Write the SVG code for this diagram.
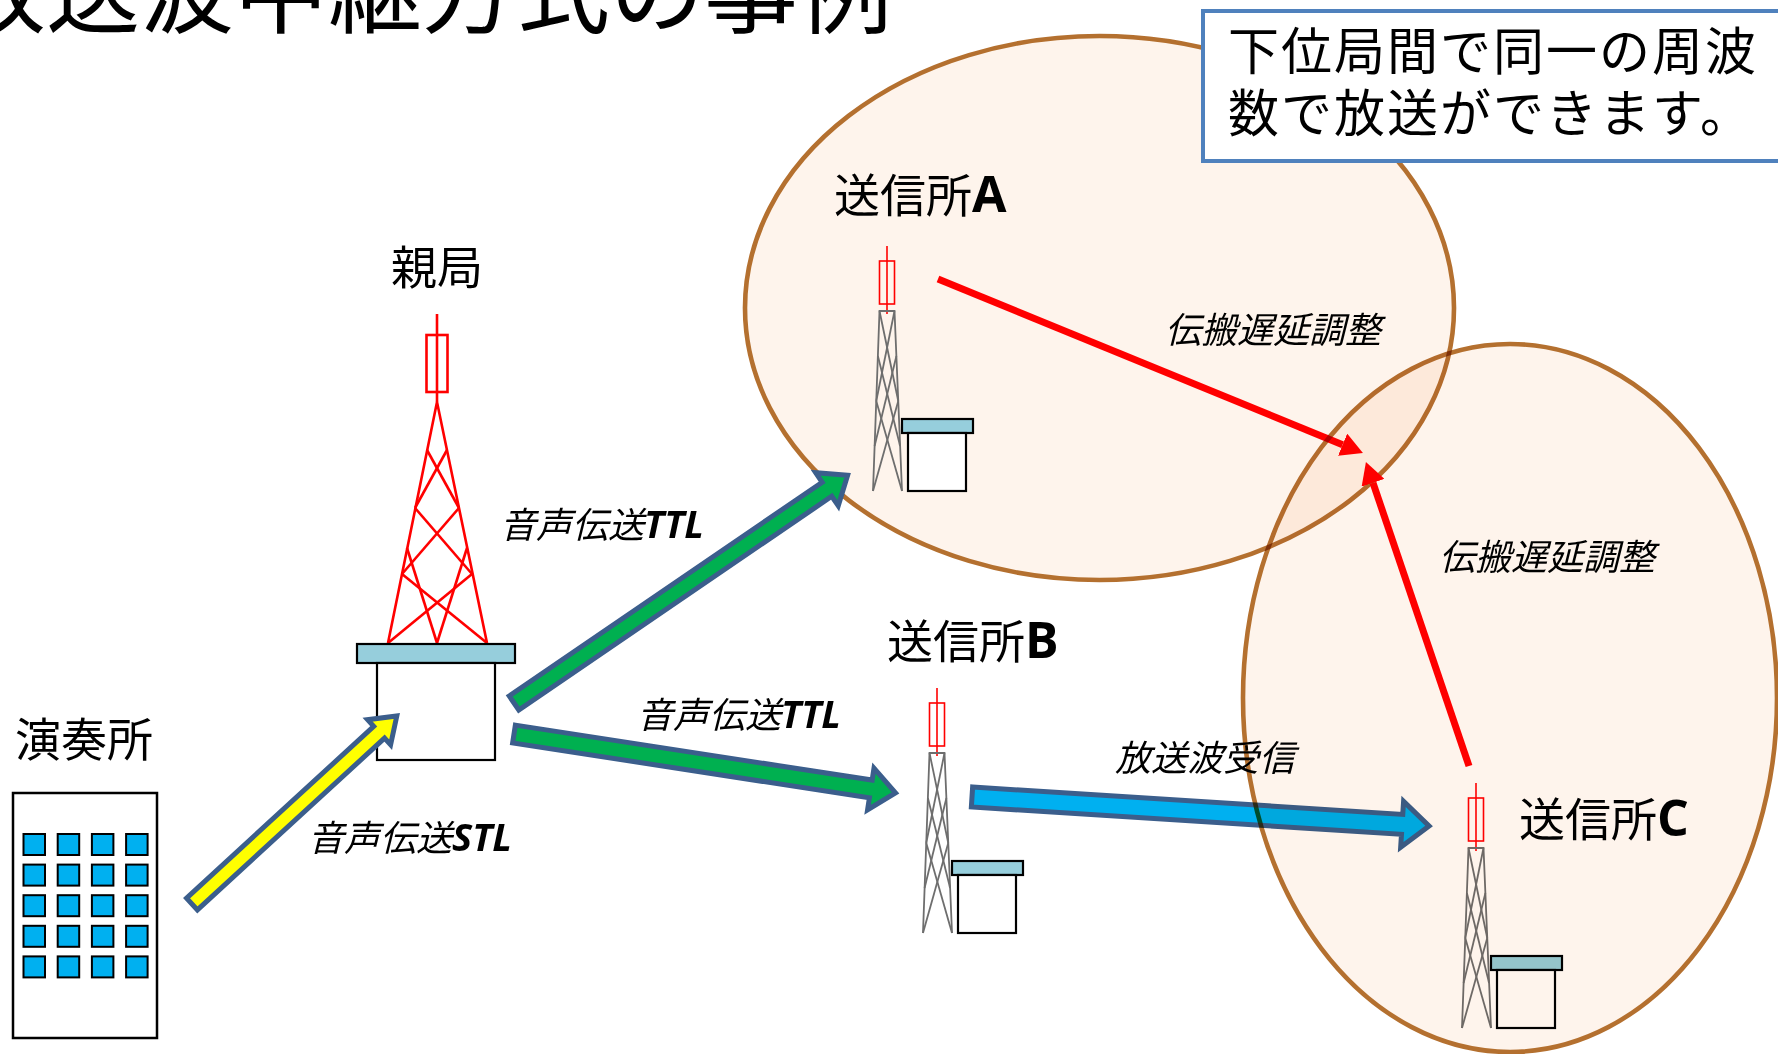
<svg xmlns="http://www.w3.org/2000/svg" xmlns:xlink="http://www.w3.org/1999/xlink" width="1778" height="1054" viewBox="0 0 1778 1054">
  <style>
    text { font-family: "Noto Sans CJK JP", "Noto Sans", sans-serif; fill: #000; }
    .title { font-size: 94px; }
    .note { font-size: 51px; letter-spacing: 2px; }
    .node-label { font-size: 46px; }
    .latin { font-family: "Open Sans", "Noto Sans", sans-serif; font-weight: 700; }
    .node-label .latin { font-size: 50px; }
    .link-label { font-size: 36px; font-style: italic; }
    .link-label .latin { font-size: 38px; }
    .coverage { fill: #FEF4EC; stroke: #B4702F; stroke-width: 4.6; }
    .coverage-over { mix-blend-mode: multiply; }
    .red { stroke: #FF0000; fill: none; }
    .lattice { stroke: #6E6E6E; stroke-width: 1.8; fill: none; }
    .roof { fill: #96CEDC; stroke: #000; stroke-width: 2.2; }
    .house { fill: #FFFFFF; stroke: #000; stroke-width: 2.2; }
    .feed { stroke: #3B5E8C; stroke-width: 5; stroke-linejoin: miter; }
    .delay { stroke: #FF0000; stroke-width: 7; fill: none; }
  </style>
  <defs>
    <!-- relay transmitter: antenna, lattice mast and equipment hut; origin = antenna tip -->
    <g id="small-tower">
      <line class="red" x1="0" y1="0" x2="0" y2="68" stroke-width="1.6"/>
      <rect class="red" x="-7.5" y="15" width="15" height="43" stroke-width="1.6"/>
      <g class="lattice">
        <polyline points="-14,245 -7.5,65 7.5,65 15,245"/>
        <line x1="-7.5" y1="65" x2="11.25" y2="155"/>
        <line x1="7.5" y1="65" x2="-10.75" y2="155"/>
        <line x1="-9.1" y1="110" x2="13.1" y2="200"/>
        <line x1="9.4" y1="110" x2="-12.4" y2="200"/>
        <line x1="-10.75" y1="155" x2="15" y2="245"/>
        <line x1="11.25" y1="155" x2="-14" y2="245"/>
      </g>
      <rect class="roof" x="15" y="173" width="71" height="14"/>
      <rect class="house" x="21" y="187" width="58" height="58"/>
    </g>
    <rect id="win" width="21.5" height="21" fill="#00B0F0" stroke="#000" stroke-width="2"/>
    <marker id="red-head" markerUnits="userSpaceOnUse" markerWidth="22" markerHeight="24" viewBox="0 0 22 24" refX="0" refY="12" orient="auto">
      <path d="M0,0 L22,12 L0,24 z" fill="#FF0000"/>
    </marker>
  </defs>

  <rect width="1778" height="1054" fill="#FFFFFF"/>

  <!-- service area of station A -->
  <g id="coverage-a">
    <ellipse class="coverage" cx="1099.5" cy="308" rx="354.5" ry="272"/>
  </g>

  <!-- explanatory note -->
  <g id="note">
    <rect x="1203" y="11" width="600" height="150" fill="#FFFFFF" stroke="#4F81BD" stroke-width="4"/>
    <text class="note" x="1228" y="70">下位局間で同一の周波</text>
    <text class="note" x="1228" y="132">数で放送ができます。</text>
  </g>

  <text class="title" x="-48" y="26">放送波中継方式の事例</text>

  <!-- studio -->
  <g id="studio">
    <text class="node-label" x="15" y="756">演奏所</text>
    <rect x="13" y="793" width="144" height="245" fill="#FFFFFF" stroke="#000" stroke-width="2.5"/>
    <g>
      <use xlink:href="#win" x="23.5" y="834"/><use xlink:href="#win" x="57.7" y="834"/><use xlink:href="#win" x="91.9" y="834"/><use xlink:href="#win" x="126.1" y="834"/>
      <use xlink:href="#win" x="23.5" y="864.6"/><use xlink:href="#win" x="57.7" y="864.6"/><use xlink:href="#win" x="91.9" y="864.6"/><use xlink:href="#win" x="126.1" y="864.6"/>
      <use xlink:href="#win" x="23.5" y="895.2"/><use xlink:href="#win" x="57.7" y="895.2"/><use xlink:href="#win" x="91.9" y="895.2"/><use xlink:href="#win" x="126.1" y="895.2"/>
      <use xlink:href="#win" x="23.5" y="925.8"/><use xlink:href="#win" x="57.7" y="925.8"/><use xlink:href="#win" x="91.9" y="925.8"/><use xlink:href="#win" x="126.1" y="925.8"/>
      <use xlink:href="#win" x="23.5" y="956.4"/><use xlink:href="#win" x="57.7" y="956.4"/><use xlink:href="#win" x="91.9" y="956.4"/><use xlink:href="#win" x="126.1" y="956.4"/>
    </g>
  </g>

  <!-- master station -->
  <g id="master">
    <text class="node-label" x="437" y="284" text-anchor="middle">親局</text>
    <g class="red" stroke-width="2.6">
      <line x1="437" y1="314" x2="437" y2="402"/>
      <rect x="426.5" y="335" width="21" height="57"/>
      <polyline points="388,643 437,402 487,643"/>
      <line x1="427" y1="450" x2="459" y2="508"/>
      <line x1="447" y1="450" x2="415" y2="508"/>
      <line x1="415" y1="508" x2="472" y2="574"/>
      <line x1="459" y1="508" x2="402" y2="574"/>
      <line x1="407" y1="548" x2="437" y2="643"/>
      <line x1="467" y1="548" x2="437" y2="643"/>
      <line x1="402" y1="574" x2="487" y2="643"/>
      <line x1="472" y1="574" x2="388" y2="643"/>
    </g>
    <rect class="roof" x="357" y="644" width="158" height="19" stroke-width="2.5"/>
    <rect class="house" x="377" y="663" width="118" height="97" stroke-width="2.5"/>
  </g>

  <!-- relay stations -->
  <g id="station-a">
    <text class="node-label" x="834" y="212">送信所<tspan class="latin">A</tspan></text>
    <use xlink:href="#small-tower" x="887" y="246"/>
  </g>
  <g id="station-b">
    <text class="node-label" x="887" y="658">送信所<tspan class="latin">B</tspan></text>
    <use xlink:href="#small-tower" x="937" y="688"/>
  </g>
  <g id="station-c">
    <text class="node-label" x="1519" y="836">送信所<tspan class="latin">C</tspan></text>
    <use xlink:href="#small-tower" x="1476" y="783"/>
  </g>

  <!-- links between stations -->
  <g id="connectors">
    <polygon class="feed" fill="#FFFF00" transform="translate(192,904) rotate(-42.55)" points="0,-8 254,-8 254,-17 278,0 254,17 254,8 0,8"/>
    <polygon class="feed" fill="#00B050" transform="translate(514,703) rotate(-34.33)" points="0,-8.5 379,-8.5 379,-20 404,0 379,20 379,8.5 0,8.5"/>
    <polygon class="feed" fill="#00B050" transform="translate(514,734) rotate(8.76)" points="0,-9 361,-9 361,-21 386,0 361,21 361,9 0,9"/>
    <polygon class="feed" fill="#00B0F0" transform="translate(972,797) rotate(3.64)" points="0,-10 431,-10 431,-23 458,0 431,23 431,10 0,10"/>
    <line class="delay" x1="938" y1="279" x2="1342.6" y2="444.7" marker-end="url(#red-head)"/>
    <line class="delay" x1="1469" y1="766" x2="1373" y2="482.8" marker-end="url(#red-head)"/>

    <text class="link-label" x="308" y="851">音声伝送<tspan class="latin">STL</tspan></text>
    <text class="link-label" x="500" y="538">音声伝送<tspan class="latin">TTL</tspan></text>
    <text class="link-label" x="637" y="728">音声伝送<tspan class="latin">TTL</tspan></text>
    <text class="link-label" x="1115" y="771" font-size="37">放送波受信</text>
    <text class="link-label" x="1165" y="343" font-size="37">伝搬遅延調整</text>
    <text class="link-label" x="1439" y="570" font-size="37">伝搬遅延調整</text>
  </g>

  <!-- service area of station C, tinting what lies beneath -->
  <g id="coverage-c">
    <ellipse class="coverage coverage-over" cx="1510" cy="698" rx="267" ry="354"/>
  </g>
</svg>
